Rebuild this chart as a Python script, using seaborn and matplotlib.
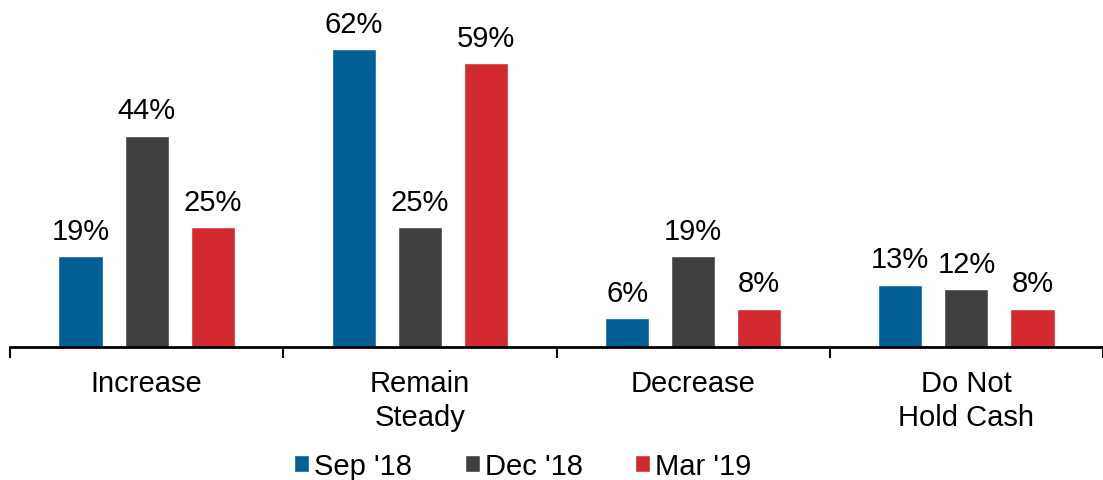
import numpy as np
import pandas as pd
import matplotlib.pyplot as plt
import seaborn as sns

categories = ['Increase', 'Remain\nSteady', 'Decrease', 'Do Not\nHold Cash']
periods = ["Sep '18", "Dec '18", "Mar '19"]
sep_18 = [19, 62, 6, 13]
dec_18 = [44, 25, 19, 12]
mar_19 = [25, 59, 8, 8]
colors = ['#006096', '#404041', '#D32A2F']

df = pd.DataFrame({
    'category': categories * 3,
    'period': [p for p in periods for _ in categories],
    'value': sep_18 + dec_18 + mar_19,
})

sns.set_style('white')
plt.rcParams['font.family'] = ['Liberation Sans', 'DejaVu Sans']
plt.rcParams['text.color'] = 'black'
plt.rcParams['xtick.color'] = 'black'

fig = plt.figure(figsize=(11.03, 4.81), dpi=100)
ax = fig.add_axes([10 / 1103, 1 - 348 / 481, 1093 / 1103, 348 / 481])

sns.barplot(data=df, x='category', y='value', hue='period', palette=colors,
            saturation=1, width=0.725, gap=0.33, ax=ax, legend=True)

for container in ax.containers:
    ax.bar_label(container, labels=[f'{v:.0f}%' for v in container.datavalues],
                 padding=8, fontsize=21, color='black')

ax.set_ylim(0, 72.4)
ax.set_xlim(-0.5, 3.5)
ax.set_yticks([])
ax.set_xlabel('')
ax.set_ylabel('')
for s in ['top', 'right', 'left']:
    ax.spines[s].set_visible(False)
ax.spines['bottom'].set_linewidth(2)
ax.spines['bottom'].set_color('black')

ax.set_xticks(range(len(categories)))
ax.set_xticklabels(categories, fontsize=21, linespacing=1.25)
ax.tick_params(axis='x', which='major', length=0, pad=16)
ax.set_xticks(np.arange(-0.5, 4.0, 1.0), minor=True)
ax.tick_params(axis='x', which='minor', length=8, width=1.5, color='black', direction='out', bottom=True)

handles, labels = ax.get_legend_handles_labels()
ax.legend_.remove()
fig.legend(handles, labels, loc='center', bbox_to_anchor=(0.474, 14 / 481),
           ncol=3, frameon=False, fontsize=21, handlelength=0.52, handleheight=0.52,
           handletextpad=0.17, columnspacing=1.8)

fig.savefig('out.png', dpi=100)
